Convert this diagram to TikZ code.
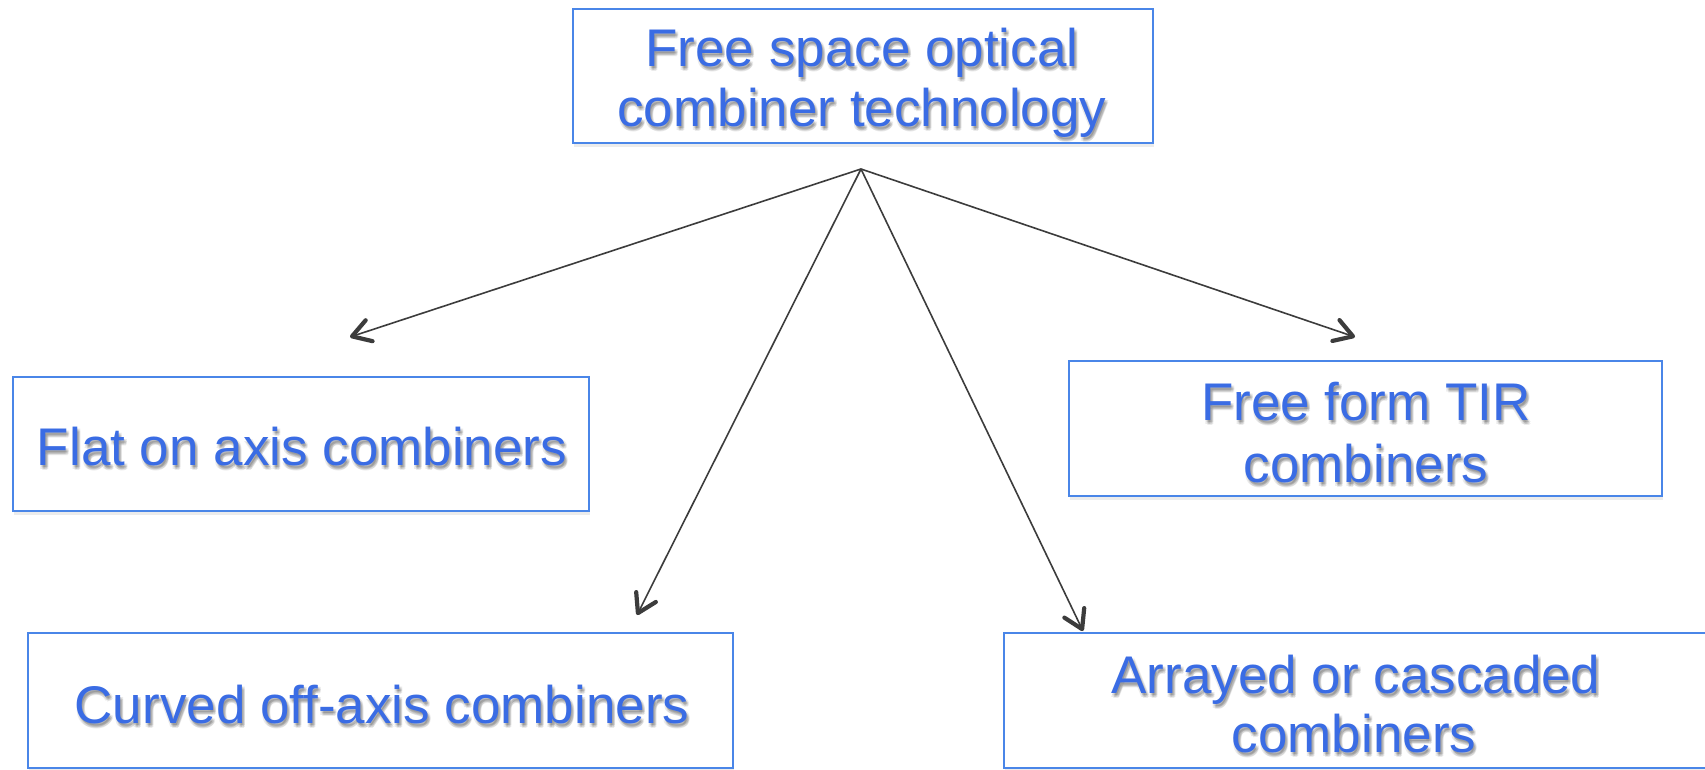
\documentclass[tikz,border=0pt]{standalone}
\usepackage{fontspec}
\setmainfont{Liberation Sans}
\usetikzlibrary{arrows.meta,shadows}
\definecolor{boxblue}{RGB}{74,134,232}
\definecolor{txtblue}{RGB}{58,108,228}
\definecolor{arrowgray}{RGB}{60,60,60}
\tikzset{
  box/.style={draw=boxblue, line width=2pt, fill=white, rectangle, inner sep=0pt,
    drop shadow={opacity=0.15, shadow xshift=1pt, shadow yshift=-4pt}},
  lbl/.style={text=txtblue, font=\fontsize{53}{60}\selectfont, inner sep=0pt, anchor=base},
  shd/.style={text=black, opacity=0.08, font=\fontsize{53}{60}\selectfont, inner sep=0pt, anchor=base},
  link/.style={draw=arrowgray, line width=1.6pt,
    -{Straight Barb[length=18pt,width=22pt,line width=4.2pt,round]}}
}
\newcommand\bluetext[4]{%
  \foreach \dx/\dy in {1/2,2/3,3/4,2/5,0/4,3/2}{%
    \node[shd, xshift=\dx pt, yshift=-\dy pt] at (#2,#3) {#4};}
  \node[lbl] (#1) at (#2,#3) {#4};}
\begin{document}
\begin{tikzpicture}[x=1pt,y=-1pt]
\useasboundingbox (0,0) rectangle (1705,770);
\fill[white] (0,0) rectangle (1705,770);
% boxes
\node[box, minimum width=580pt, minimum height=134pt] (top) at (863,76) {};
\node[box, minimum width=576pt, minimum height=134pt] (flat) at (301,444) {};
\node[box, minimum width=705pt, minimum height=135pt] (curved) at (380.5,700.5) {};
\node[box, minimum width=593pt, minimum height=135pt] (tir) at (1365.5,428.5) {};
\node[box, minimum width=708pt, minimum height=135pt] (arr) at (1358,700.5) {};
% texts
\bluetext{t1}{862}{67}{Free space optical}
\bluetext{t2}{862}{127}{combiner technology}
\bluetext{f1}{302}{465}{Flat on axis combiners}
\bluetext{c1}{382}{723}{Curved off-axis combiners}
\bluetext{r1}{1366}{420}{Free form TIR}
\bluetext{r2}{1366}{482}{combiners}
\bluetext{a1}{1356}{693}{Arrayed or cascaded}
\bluetext{a2}{1354}{752}{combiners}
% connectors
\coordinate (src) at (861,169);
\coordinate (eflat) at (350,337);
\coordinate (etir) at (1355,337);
\coordinate (ecurved) at (637,615);
\coordinate (earr) at (1083,631);
\draw[link] (src) -- (eflat);
\draw[link] (src) -- (etir);
\draw[link] (src) -- (ecurved);
\draw[link] (src) -- (earr);
\end{tikzpicture}
\end{document}
